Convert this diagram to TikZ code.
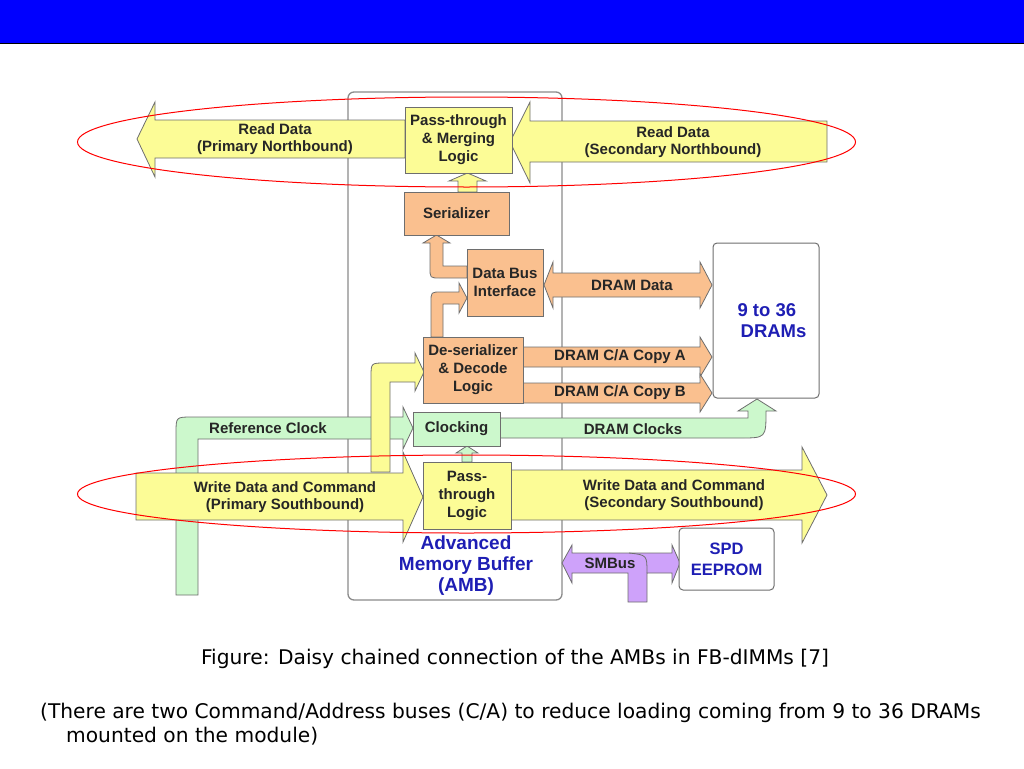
\documentclass[tikz,border=0pt]{standalone}
\usepackage{fontspec}
\setmainfont{DejaVu Sans}
\newfontfamily\lblfont{Liberation Sans}
\usetikzlibrary{calc}

\definecolor{barblue}{RGB}{0,0,255}
\definecolor{yelfill}{RGB}{252,252,150}
\definecolor{orgfill}{RGB}{250,192,143}
\definecolor{grnfill}{RGB}{204,248,204}
\definecolor{purfill}{RGB}{206,162,250}
\definecolor{edgegray}{RGB}{110,110,110}
\definecolor{ambblue}{RGB}{30,30,180}

\begin{document}
\begin{tikzpicture}[x=1pt, y=-1pt,
    arr/.style={draw=edgegray, line width=0.8pt, line join=miter},
    yelarrow/.style={arr, fill=yelfill},
    orgarrow/.style={arr, fill=orgfill},
    grnarrow/.style={arr, fill=grnfill},
    purarrow/.style={arr, fill=purfill},
    lbl/.style={font=\lblfont\bfseries\fontsize{15}{17}\selectfont, text=black!85, align=center, inner sep=0pt},
    blk/.style={draw=edgegray, line width=1pt, inner sep=0pt, align=center, text=black!85,
        font=\lblfont\bfseries\fontsize{15}{18}\selectfont},
    yelbox/.style={blk, fill=yelfill},
    orgbox/.style={blk, fill=orgfill},
    grnbox/.style={blk, fill=grnfill},
    whitebox/.style={blk, fill=white, rounded corners=4pt, text=ambblue},
    bluetxt/.style={font=\lblfont\bfseries\fontsize{19}{21}\selectfont, text=ambblue, align=center, inner sep=0pt},
    ring/.style={red, line width=1pt},
    captxt/.style={font=\fontsize{20.2}{23}\selectfont, inner sep=0pt}
]
    \useasboundingbox (0,0) rectangle (1024,768);
    % title bar
    \fill[barblue] (0,0) rectangle (1024,44);
    \draw[line width=1pt] (0,44) -- (1024,44);

    % AMB outline
    \draw[edgegray!80, line width=1.3pt, rounded corners=6pt] (348,92) rectangle (562,600);

    % northbound
    \draw[yelarrow] (405,120) -- (155,120) -- (155,102) -- (137,139) -- (155,177) -- (155,158) -- (405,158) -- cycle;
    \draw[yelarrow] (827,121) -- (530,121) -- (530,102) -- (510,142) -- (530,183) -- (530,162) -- (827,162) -- cycle;
    \draw[yelarrow] (458,192) -- (458,181) -- (449,181) -- (467.5,173) -- (486,181) -- (477,181) -- (477,192) -- cycle;

    % internal orange paths
    \draw[orgarrow] (467,266) -- (443,266) -- (443,243) -- (450,243) -- (436.5,235) -- (423,243) -- (430,243)
        -- (430,268) .. controls (430,278) .. (440,278) -- (467,278) -- cycle;
    \draw[orgarrow] (431,337) -- (431,302) .. controls (431,292) .. (441,292) -- (459,292) -- (459,283)
        -- (467,298) -- (459,313) -- (459,304) -- (443,304) -- (443,337) -- cycle;

    % DRAM side
    \draw[orgarrow] (544,285) -- (553,262) -- (553,273) -- (700,273) -- (700,262) -- (712,285) -- (700,308)
        -- (700,297) -- (553,297) -- (553,308) -- cycle;
    \draw[orgarrow] (523,347) -- (700,347) -- (700,337) -- (712,357) -- (700,377) -- (700,367) -- (523,367) -- cycle;
    \draw[orgarrow] (523,383) -- (700,383) -- (700,374) -- (712,393) -- (700,412) -- (700,403) -- (523,403) -- cycle;

    % clocks
    \draw[grnarrow] (176,595) -- (176,433) .. controls (176,417) .. (192,417) -- (403,417) -- (403,407) -- (413,428)
        -- (403,449) -- (403,439) -- (198,439) -- (198,595) -- cycle;
    \draw[grnarrow] (500,418) -- (748,418) -- (748,411) -- (738,411) -- (757,399) -- (776,411) -- (766,411)
        .. controls (766,438) .. (740,438) -- (500,438) -- cycle;
    \draw[grnarrow] (462,462) -- (462,453) -- (456,453) -- (467,446) -- (478,453) -- (472,453) -- (472,462) -- cycle;

    % southbound
    \draw[yelarrow] (371,472) -- (371,377) .. controls (371,363) .. (385,363) -- (415,363) -- (415,353) -- (424,372)
        -- (415,391) -- (415,382) -- (390,382) -- (390,472) -- cycle;
    \draw[yelarrow] (136,473) -- (403,473) -- (403,452) -- (423,497) -- (403,542) -- (403,520) -- (136,520) -- cycle;
    \draw[yelarrow] (511,470) -- (802,470) -- (802,447) -- (827,495) -- (802,543) -- (802,520) -- (511,520) -- cycle;

    % SMBus
    \draw[purarrow] (562,563) -- (572,545) -- (572,553) -- (672,553) -- (672,545) -- (680,563) -- (672,583)
        -- (672,573) -- (647,573) -- (647,602) -- (628,602) -- (628,573) -- (572,573) -- (572,583) -- cycle;
    \draw[edgegray, line width=0.8pt] (629,553) .. controls (647,555) .. (647,573);

    % blocks
    \node[yelbox, minimum width=107pt, minimum height=66pt] (pml) at (458.5,140) {Pass-through\\\& Merging\\Logic};
    \node[orgbox, minimum width=105pt, minimum height=43pt] (ser) at (456.5,213.5) {Serializer};
    \node[orgbox, minimum width=76pt, minimum height=67pt] (dbi) at (505,282.5) {Data Bus\\Interface};
    \node[orgbox, minimum width=100pt, minimum height=66pt] (deser) at (473,370) {De-serializer\\\& Decode\\Logic};
    \node[grnbox, minimum width=87pt, minimum height=34pt] (clk) at (456.5,429) {Clocking};
    \node[yelbox, minimum width=88pt, minimum height=67pt] (ptl) at (467,495.5) {Pass-\\through\\Logic};
    \node[whitebox, font=\lblfont\bfseries\fontsize{18.5}{21}\selectfont, align=left,
        minimum width=106pt, minimum height=155pt] (drams) at (766,320.5) {\hspace*{12pt}9 to 36\\\hspace*{12pt}\,DRAMs};
    \node[whitebox, font=\lblfont\bfseries\fontsize{16.5}{21}\selectfont,
        minimum width=95pt, minimum height=62pt] (spd) at (726.5,559) {SPD\\EEPROM};
    \node[bluetxt] (amb) at (466,566) {Advanced\\Memory Buffer\\(AMB)};

    % arrow labels
    \node[lbl] (rdp) at (275,139) {Read Data\\(Primary Northbound)};
    \node[lbl] (rds) at (673,142) {Read Data\\(Secondary Northbound)};
    \node[lbl] (dramdata) at (632,285) {DRAM Data};
    \node[lbl] (copya) at (620,357) {DRAM C/A Copy A};
    \node[lbl] (copyb) at (620,393) {DRAM C/A Copy B};
    \node[lbl] (refclk) at (268,428) {Reference Clock};
    \node[lbl] (dramclk) at (633,429) {DRAM Clocks};
    \node[lbl] (wdp) at (285,497) {Write Data and Command\\(Primary Southbound)};
    \node[lbl] (wds) at (674,495) {Write Data and Command\\(Secondary Southbound)};
    \node[lbl] (smbus) at (610,563) {SMBus};

    % highlight rings
    \draw[ring] (466.5,142) ellipse [x radius=389pt, y radius=45pt];
    \draw[ring] (466.5,494) ellipse [x radius=389pt, y radius=39pt];

    % caption
    \node[captxt] (caption) at (515,659) {Figure: Daisy chained connection of the AMBs in FB-dIMMs [7]};
    \node[captxt, anchor=west] (note1) at (40,713)
        {(There are two Command/Address buses (C/A) to reduce loading coming from 9 to 36 DRAMs};
    \node[captxt, anchor=west] (note2) at (66,736) {mounted on the module)};
\end{tikzpicture}
\end{document}
